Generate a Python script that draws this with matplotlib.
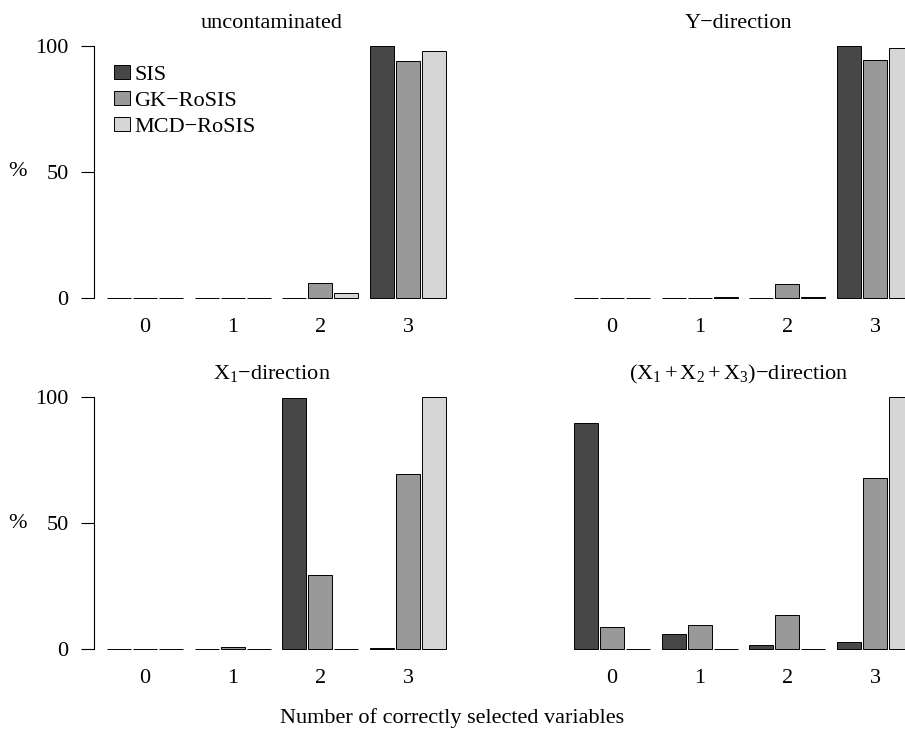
import numpy as np
import matplotlib
matplotlib.use("Agg")
import matplotlib.pyplot as plt
from matplotlib.patches import Patch

plt.rcParams['font.family'] = ['Liberation Serif', 'DejaVu Serif']
plt.rcParams['mathtext.fontset'] = 'custom'
plt.rcParams['mathtext.rm'] = 'Liberation Serif'
plt.rcParams['mathtext.it'] = 'Liberation Serif:italic'
plt.rcParams['font.size'] = 16

groups = ['0', '1', '2', '3']
methods = ['SIS', 'GK\u2212RoSIS', 'MCD\u2212RoSIS']
colors = ['#474747', '#999999', '#d6d6d6']

titles = ['uncontaminated', 'Y\u2212direction',
          r'$\mathrm{X}_1$' + '\u2212direction',
          r'($\mathrm{X}_1+\mathrm{X}_2+\mathrm{X}_3$)' + '\u2212direction']

# rows = methods (SIS, GK, MCD), columns = number of correct variables 0..3
uncont = [[0, 0, 0, 100],
          [0, 0, 6, 94],
          [0, 0, 2, 98]]
ydir = [[0, 0, 0, 100],
        [0, 0, 5.5, 94.5],
        [0, 0.5, 0.5, 99]]
x1dir = [[0, 0, 99.5, 0.5],
         [0, 1, 29.5, 69.5],
         [0, 0, 0, 100]]
x123dir = [[89.5, 6, 1.6, 2.9],
           [9, 9.5, 13.5, 68],
           [0, 0, 0, 100]]
panels = [uncont, ydir, x1dir, x123dir]

W, H = 905, 729
fig = plt.figure(figsize=(W / 100, H / 100), dpi=100)

pitch = 3.37
bw = 0.923
xlim = (-0.961, 13.11)
ax_w = 366
zero_y = [298.3, 298.3, 649.3, 649.3]
left_x = [94, 561, 94, 561]
ax_h = 252.6

for k in range(4):
    ax = fig.add_axes([left_x[k] / W, (H - zero_y[k]) / H, ax_w / W, ax_h / H])
    data = panels[k]
    for j in range(3):
        xs = np.arange(4) * pitch + j
        ax.bar(xs, data[j], width=bw, color=colors[j], edgecolor='black',
               linewidth=0.7, clip_on=False, label=methods[j])
    ax.set_xlim(*xlim)
    ax.set_ylim(0, 100)
    ax.set_xticks(np.arange(4) * pitch + 1)
    ax.set_xticklabels(groups)
    ax.tick_params(axis='x', length=0, pad=14)
    for s in ['top', 'right', 'bottom']:
        ax.spines[s].set_visible(False)
    if k % 2 == 0:
        ax.set_yticks([0, 50, 100])
        ax.tick_params(axis='y', length=9.4, width=0.8, pad=9)
        ax.spines['left'].set_bounds(0, 100)
        ax.spines['left'].set_linewidth(0.8)
        ax.set_ylabel('%', rotation=0, va='center', ha='center')
        ax.yaxis.set_label_coords(-0.208, 0.5)
    else:
        ax.spines['left'].set_visible(False)
        ax.set_yticks([])
    ax.set_title(titles[k], x=0.486, pad=12.5, fontsize=16)
    if k == 0:
        handles = [Patch(facecolor=colors[j], edgecolor='black', linewidth=0.7)
                   for j in range(3)]
        ax.legend(handles, methods, loc='upper left', bbox_to_anchor=(0.055, 0.923),
                  frameon=False, borderpad=0, borderaxespad=0,
                  handlelength=0.72, handleheight=0.57, handletextpad=0.18,
                  labelspacing=0.29)

fig.text(0.4995, 0.0151, 'Number of correctly selected variables',
         ha='center', va='center', fontsize=16)

fig.savefig('out.png', dpi=100)
